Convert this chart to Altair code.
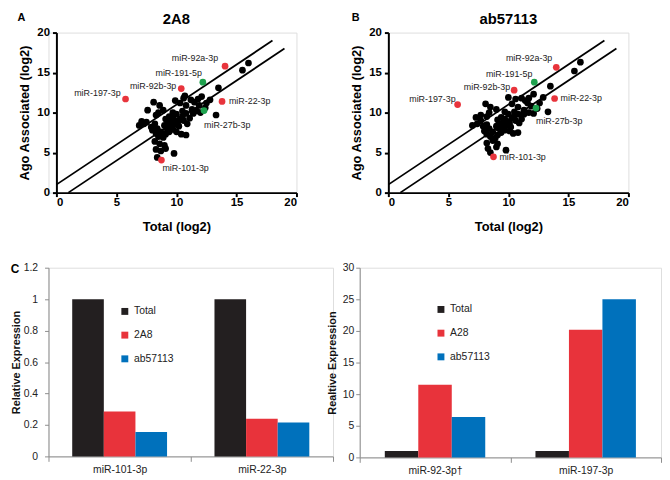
import altair as alt
import pandas as pd

FONT = "Liberation Sans"
RED = "#e8343c"
GREEN = "#1ea24e"
BAR_COLORS = ["#231f20", "#e8333b", "#0071bc"]

# ---------------- Panel A (2A8) scatter: black points ----------------
a_x = [16.0, 15.5, 13.5, 13.3, 12.8, 12.5, 12.1, 11.8, 11.5, 11.2, 11.9, 12.4, 11.7, 11.4, 12.0,
       10.8, 10.6, 10.7, 9.9, 10.3, 8.1, 8.6, 8.9, 7.6, 8.5, 8.3, 7.1, 7.3, 6.9, 7.5,
       7.9, 8.2, 8.4, 8.0, 8.3, 8.7, 8.5, 8.9, 9.1, 8.2, 8.6, 9.0, 8.3, 8.7, 9.1,
       8.4, 9.8, 9.1, 9.4, 9.7, 9.9, 9.3, 9.6, 9.0, 9.5, 9.8, 10.1, 10.3, 10.5, 10.6,
       10.2, 9.7, 10.0, 10.4, 10.8, 10.9, 11.1, 10.8, 11.3, 9.2, 9.4, 10.0, 10.5, 9.7]
a_y = [16.2, 15.3, 13.1, 9.7, 11.6, 11.2, 12.0, 11.7, 11.3, 11.6, 10.9, 10.6, 10.2, 9.9, 10.0,
       10.9, 11.8, 12.1, 11.5, 11.2, 11.3, 10.9, 10.3, 10.3, 10.0, 9.7, 8.9, 8.6, 8.4, 8.8,
       8.2, 8.6, 8.0, 7.8, 7.4, 7.6, 7.0, 6.9, 7.3, 6.4, 6.1, 5.9, 5.4, 5.2, 5.5,
       4.4, 4.9, 9.2, 9.5, 9.3, 9.0, 8.7, 8.9, 8.4, 8.2, 8.5, 8.8, 9.2, 9.5, 9.0,
       8.3, 7.9, 7.6, 7.3, 7.2, 8.6, 9.3, 9.9, 10.4, 8.0, 7.6, 9.8, 10.2, 10.0]

# ---------------- Panel B (ab57113) scatter: black points ----------------
b_x = [16.0, 15.5, 13.5, 13.3, 12.9, 12.6, 12.1, 11.7, 11.4, 11.1, 11.9, 12.4, 11.7, 11.3, 12.1,
       10.8, 10.6, 10.0, 10.3, 8.1, 8.5, 9.0, 7.7, 8.4, 8.2, 7.3, 7.4, 7.0, 7.7, 7.9,
       8.2, 8.4, 8.0, 8.2, 8.7, 8.5, 8.9, 9.1, 8.2, 8.7, 9.1, 8.3, 8.5, 9.0, 9.8,
       9.1, 9.4, 9.7, 9.9, 9.3, 9.6, 9.0, 9.5, 9.8, 10.1, 10.3, 10.5, 10.6, 10.2, 9.7,
       10.1, 10.4, 10.8, 10.9, 11.1, 10.8, 11.3, 9.2, 9.4, 10.0, 10.5, 9.7, 11.6]
b_y = [16.3, 15.2, 13.3, 10.1, 11.9, 11.2, 12.3, 11.8, 11.5, 11.8, 10.8, 10.5, 10.0, 9.8, 9.9,
       10.7, 11.7, 11.9, 11.1, 11.1, 10.7, 10.4, 9.7, 10.0, 9.5, 9.4, 8.6, 8.4, 9.0, 8.3,
       8.5, 8.0, 7.7, 7.3, 7.6, 7.0, 6.8, 7.2, 6.2, 6.5, 6.1, 5.5, 5.0, 5.7, 5.3,
       9.1, 9.4, 9.2, 8.9, 8.6, 8.8, 8.3, 8.1, 8.4, 8.7, 9.3, 9.6, 9.0, 8.2, 7.8,
       7.7, 7.4, 7.5, 8.7, 9.2, 9.8, 10.3, 8.0, 7.5, 9.8, 10.1, 10.1, 11.2]

# ---------------- Highlighted miRNAs ----------------
mirs = ["miR-92a-3p", "miR-191-5p", "miR-92b-3p", "miR-197-3p", "miR-22-3p", "miR-27b-3p", "miR-101-3p"]
mir_class = ["test", "control", "test", "test", "test", "control", "test"]
a_hx = [14.05, 12.2, 10.4, 5.76, 13.8, 12.3, 8.75]
a_hy = [15.8, 13.8, 13.0, 11.7, 11.4, 10.25, 4.07]
b_hx = [13.99, 12.16, 10.48, 5.77, 13.85, 12.3, 8.76]
b_hy = [15.66, 13.8, 12.8, 11.0, 11.76, 10.57, 4.47]

# label placement (align, dx, dy) per miRNA
label_style_a = {
    "miR-92a-3p": ("right", -7, -8), "miR-191-5p": ("right", -1, -9),
    "miR-92b-3p": ("right", -5, -3), "miR-197-3p": ("right", -5, -6),
    "miR-22-3p": ("left", 7, 0), "miR-27b-3p": ("left", 0, 15),
    "miR-101-3p": ("left", 1, 8),
}
label_style_b = {
    "miR-92a-3p": ("right", -4, -9), "miR-191-5p": ("right", -2, -8),
    "miR-92b-3p": ("right", -4, -3), "miR-197-3p": ("right", -2, -6),
    "miR-22-3p": ("left", 6, 0), "miR-27b-3p": ("left", 0, 13),
    "miR-101-3p": ("left", 6, 0),
}

# reference lines (y = x + 1 and y = x - 1)
line_id = ["upper", "upper", "lower", "lower"]
line_x = [0, 18, 1, 19]
line_y = [1, 19, 0, 18]

# ---------------- Panel C bar data ----------------
c1_mirs = ["miR-101-3p", "miR-22-3p"]
c1_series = ["Total", "2A8", "ab57113"]
c1_total = [1.0, 1.0]
c1_2a8 = [0.285, 0.24]
c1_ab = [0.155, 0.215]

c2_mirs = ["miR-92-3p\u2020", "miR-197-3p"]
c2_series = ["Total", "A28", "ab57113"]
c2_total = [1.0, 1.0]
c2_a28 = [11.5, 20.2]
c2_ab = [6.4, 25.0]

c1_ticks = [0, 0.2, 0.4, 0.6, 0.8, 1.0, 1.2]
c2_ticks = [0, 5, 10, 15, 20, 25, 30]
scatter_ticks = [0, 5, 10, 15, 20]


def text_layer(txt, x, y, size, weight="bold", align="center", opacity=1):
    tdf = pd.DataFrame({"t": [txt]})
    return alt.Chart(tdf).mark_text(font=FONT, fontSize=size, fontWeight=weight, align=align,
                                    baseline="middle", color="black", opacity=opacity).encode(
        x=alt.value(x), y=alt.value(y), text="t:N")


def scatter(title, letter, letter_x, px, py, hx, hy, lstyle, shift, spacer):
    W, H = 243, 162
    xs = alt.Scale(domain=[0, 20], nice=False, zero=False, range=[shift, shift + W])
    ys = alt.Scale(domain=[0, 20], nice=False, zero=False)
    common = dict(domainColor="black", domainWidth=2, tickColor="black", tickWidth=2, tickSize=4,
                  labelFont=FONT, labelFontSize=11.5, labelFontWeight="bold", labelColor="black",
                  titleFont=FONT, titleFontSize=13, titleFontWeight="bold", titleColor="black",
                  grid=False, values=scatter_ticks)
    xax = alt.Axis(title="Total (log2)", labelPadding=0, titlePadding=13, **common)
    yax = alt.Axis(title="Ago Associated (log2)", labelPadding=3, titlePadding=5, offset=-shift, **common)
    ldf = pd.DataFrame({"line": line_id, "x": line_x, "y": line_y})
    pdf = pd.DataFrame({"x": px, "y": py})
    hdf = pd.DataFrame({"mir": mirs, "cls": mir_class, "x": hx, "y": hy})

    lines = alt.Chart(ldf).mark_line(color="black", strokeWidth=1.8).encode(
        x=alt.X("x:Q", scale=xs, axis=xax), y=alt.Y("y:Q", scale=ys, axis=yax), detail="line:N")
    pts = alt.Chart(pdf).mark_circle(size=46, color="black", opacity=1).encode(x="x:Q", y="y:Q")
    red = alt.Chart(hdf).transform_filter(alt.datum.cls == "test").mark_circle(
        size=46, color=RED, opacity=1).encode(x="x:Q", y="y:Q")
    green = alt.Chart(hdf).transform_filter(alt.datum.cls == "control").mark_circle(
        size=46, color=GREEN, opacity=1).encode(x="x:Q", y="y:Q")
    layers = [lines, pts, red, green]
    for m in mirs:
        al, dx, dy = lstyle[m]
        layers.append(alt.Chart(hdf).transform_filter(alt.datum.mir == m).mark_text(
            align=al, dx=dx, dy=dy, baseline="middle", font=FONT, fontSize=9, color="#222"
        ).encode(x="x:Q", y="y:Q", text="mir:N"))
    layers.append(text_layer(title, shift + W / 2, -14, 15))
    layers.append(text_layer(letter, letter_x, -15, 11))
    if spacer:
        # invisible anchor fixing the left extent of the panel
        layers.append(text_layer(letter, -48, -15, 11, align="left", opacity=0))
    return alt.layer(*layers).properties(width=W + shift, height=H)


def bars(cats, series, valsets, ymax, ticks, fmt, ytitle, width, height, lx, ly, letter,
         lab_pad, title_pad):
    rows = []
    for s, vals in zip(series, valsets):
        for c, v in zip(cats, vals):
            rows.append({"mir": c, "series": s, "value": v})
    df = pd.DataFrame(rows)
    gray = "#8c8c8c"
    ch = alt.Chart(df).mark_bar().encode(
        x=alt.X("mir:N", sort=cats, scale=alt.Scale(paddingInner=0, paddingOuter=0),
                axis=alt.Axis(title=None, labelAngle=0, tickBand="extent", tickSize=5, tickColor=gray,
                              domainColor=gray, labelFont=FONT, labelFontSize=10.5, labelColor="#222",
                              labelPadding=3)),
        xOffset=alt.XOffset("series:N", sort=series, scale=alt.Scale(paddingInner=0, paddingOuter=0.75)),
        y=alt.Y("value:Q", scale=alt.Scale(domain=[0, ymax], nice=False),
                axis=alt.Axis(title=ytitle, values=ticks, format=fmt, grid=False, tickSize=4,
                              tickColor=gray, domainColor=gray, labelFont=FONT, labelFontSize=10.5,
                              labelColor="#222", labelPadding=lab_pad, titleFont=FONT, titleFontSize=11,
                              titleFontWeight="bold", titleColor="#111", titlePadding=title_pad)),
        color=alt.Color("series:N", sort=series,
                        scale=alt.Scale(domain=series, range=BAR_COLORS),
                        legend=alt.Legend(orient="none", legendX=lx, legendY=ly, title=None,
                                          symbolType="square", symbolSize=49, symbolStrokeWidth=0,
                                          symbolOpacity=1, labelFont=FONT, labelFontSize=10.5,
                                          labelColor="#222", rowPadding=13, padding=0, labelOffset=4)),
    )
    layers = [ch]
    if letter:
        layers.append(text_layer(letter, -34, 1, 12))
        layers.append(text_layer(letter, -40, 1, 12, align="left", opacity=0))
    return alt.layer(*layers).properties(width=width, height=height)


pa = scatter("2A8", "A", -27.5, a_x, a_y, a_hx, a_hy, label_style_a, 8, False)
pb = scatter("ab57113", "B", -33, b_x, b_y, b_hx, b_hy, label_style_b, 0, True)
top = alt.hconcat(pa, pb, spacing=42)

c1 = bars(c1_mirs, c1_series, [c1_total, c1_2a8, c1_ab], 1.2, c1_ticks, ".1~f",
          "Relative Expression", 288, 191, 72, 39, "C", 7, 2)
c2 = bars(c2_mirs, c2_series, [c2_total, c2_a28, c2_ab], 30, c2_ticks, "d",
          "Realtive Expression", 305, 192, 77, 37, "", 2, 5)
bottom = alt.hconcat(c1, c2, spacing=-9).resolve_scale(
    color="independent", x="independent", y="independent", xOffset="independent"
).resolve_legend(color="independent")

chart = alt.vconcat(top, bottom, spacing=28).properties(
    padding={"left": 0, "top": 0, "right": 0, "bottom": 0}
).configure_view(stroke=None).configure(font=FONT)

chart.save("out.html", embed_options={"renderer": "svg", "actions": False})
